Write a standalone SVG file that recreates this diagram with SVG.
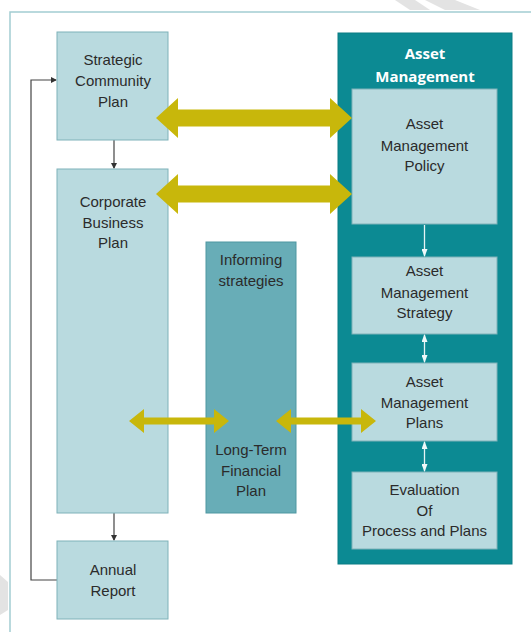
<svg xmlns="http://www.w3.org/2000/svg" width="531" height="632" viewBox="0 0 531 632">
<style>
.box{fill:#b9dadf;stroke:#7fb2b9;stroke-width:1}
.inf{fill:#68adb7;stroke:#4f97a1;stroke-width:1}
.cont{fill:#0c8a93;stroke:#0a7c84;stroke-width:1}
.t{font-family:"Liberation Sans",Arial,sans-serif;font-size:15px;fill:#2b2b2b;text-anchor:middle}
.title{font-family:"Open Sans","Liberation Sans",sans-serif;font-size:15px;font-weight:bold;fill:#ffffff;text-anchor:middle}
.dk{fill:none;stroke:#444;stroke-width:1.2}
.wh{fill:none;stroke:#e6f4f5;stroke-width:1.3}
.yel{fill:#c8b70b}
.wm{fill:#e3e3e3}
</style>
<defs>
<marker id="ad" markerWidth="6" markerHeight="6" refX="5" refY="3" orient="auto" markerUnits="userSpaceOnUse"><path d="M0,0 L6,3 L0,6 z" fill="#333"/></marker>
<marker id="aw" markerWidth="8" markerHeight="6" refX="7" refY="3" orient="auto-start-reverse" markerUnits="userSpaceOnUse"><path d="M0,0 L8,3 L0,6 z" fill="#eef8f9"/></marker>
<path id="big" d="M0,0 L22,-20 L22,-8.5 L174,-8.5 L174,-20 L196,0 L174,20 L174,8.5 L22,8.5 L22,20 z"/>
<path id="small" d="M0,0 L15,-12 L15,-3.5 L85,-3.5 L85,-12 L100,0 L85,12 L85,3.5 L15,3.5 L15,12 z"/>
</defs>
<rect width="531" height="632" fill="#ffffff"/>
<g id="watermark">
<polygon class="wm" points="395,0 415,0 430,10 410,10"/>
<polygon class="wm" points="425,0 455,0 480,10 445,10"/>
<polygon class="wm" points="0,575 8,582 8,610 0,615"/>
</g>
<path d="M10,632 L10,12 L531,12" fill="none" stroke="#a3cdd2" stroke-width="1.5"/>
<g id="connectors">
<line class="dk" x1="114" y1="140" x2="114" y2="168" marker-end="url(#ad)"/>
<line class="dk" x1="114" y1="513" x2="114" y2="540" marker-end="url(#ad)"/>
<polyline class="dk" points="57,580 31,580 31,80 56,80" marker-end="url(#ad)"/>
</g>
<g id="asset-management">
<rect class="cont" x="338" y="33" width="174" height="531"/>
<text class="title" x="425" y="59">Asset</text>
<text class="title" x="425" y="82">Management</text>
</g>
<g id="strategic-community-plan">
<rect class="box" x="57" y="32" width="111" height="108"/>
<text class="t" x="113" y="65">Strategic</text>
<text class="t" x="113" y="86">Community</text>
<text class="t" x="113" y="107">Plan</text>
</g>
<g id="corporate-business-plan">
<rect class="box" x="57" y="169" width="111" height="344"/>
<text class="t" x="113" y="207">Corporate</text>
<text class="t" x="113" y="228">Business</text>
<text class="t" x="113" y="248">Plan</text>
</g>
<g id="annual-report">
<rect class="box" x="57" y="541" width="111" height="78"/>
<text class="t" x="113" y="575">Annual</text>
<text class="t" x="113" y="596">Report</text>
</g>
<g id="informing-strategies">
<rect class="inf" x="206" y="242" width="90" height="271"/>
<text class="t" x="251" y="265">Informing</text>
<text class="t" x="251" y="286">strategies</text>
<text class="t" x="251" y="455">Long-Term</text>
<text class="t" x="251" y="476">Financial</text>
<text class="t" x="251" y="496">Plan</text>
</g>
<g id="am-policy">
<rect class="box" x="352" y="89" width="145" height="135"/>
<text class="t" x="424.5" y="129">Asset</text>
<text class="t" x="424.5" y="151">Management</text>
<text class="t" x="424.5" y="171">Policy</text>
</g>
<g id="am-strategy">
<rect class="box" x="352" y="257" width="145" height="77"/>
<text class="t" x="424.5" y="276">Asset</text>
<text class="t" x="424.5" y="298">Management</text>
<text class="t" x="424.5" y="318">Strategy</text>
</g>
<g id="am-plans">
<rect class="box" x="352" y="363" width="145" height="78"/>
<text class="t" x="424.5" y="387">Asset</text>
<text class="t" x="424.5" y="408">Management</text>
<text class="t" x="424.5" y="428">Plans</text>
</g>
<g id="evaluation">
<rect class="box" x="352" y="472" width="145" height="77"/>
<text class="t" x="424.5" y="495">Evaluation</text>
<text class="t" x="424.5" y="516">Of</text>
<text class="t" x="424.5" y="536">Process and Plans</text>
</g>
<g id="links">
<use href="#big" class="yel" transform="translate(156,118)"/>
<use href="#big" class="yel" transform="translate(156,194)"/>
<use href="#small" class="yel" transform="translate(129,421)"/>
<use href="#small" class="yel" transform="translate(276,421)"/>
<line class="wh" x1="424.5" y1="225" x2="424.5" y2="256" marker-end="url(#aw)"/>
<line class="wh" x1="424.5" y1="335" x2="424.5" y2="362" marker-start="url(#aw)" marker-end="url(#aw)"/>
<line class="wh" x1="424.5" y1="442" x2="424.5" y2="471" marker-start="url(#aw)" marker-end="url(#aw)"/>
</g>
</svg>
